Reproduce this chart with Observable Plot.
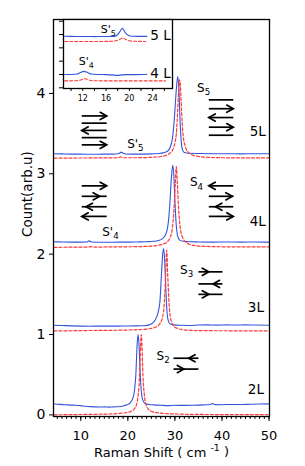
<!DOCTYPE html>
<html>
<head>
<meta charset="utf-8">
<script src="https://cdn.jsdelivr.net/npm/d3@7"></script>
<script src="https://cdn.jsdelivr.net/npm/@observablehq/plot@0.6"></script>
<style>
html,body{margin:0;padding:0;background:#fff;}
#chart{position:relative;width:305px;height:466px;}
#chart svg{position:absolute;left:0;top:0;}
</style>
</head>
<body>
<div id="chart"></div>
<script>
// ---------- main panel data: [Raman shift, count] ----------
const blue2L = [[4.3,0.135],[5,0.133],[6,0.128],[7,0.125],[8,0.122],[9,0.12],[10,0.115],[11,0.108],[12,0.103],[13,0.1],[14,0.098],[15,0.1],[16,0.097],[17,0.1],[18,0.102],[19,0.11],[19.8,0.125],[20.5,0.15],[21.0,0.2],[21.4,0.3],[21.7,0.5],[21.95,0.85],[22.15,1.0],[22.35,0.9],[22.6,0.55],[22.85,0.3],[23.2,0.18],[23.7,0.14],[24.5,0.13],[25.5,0.125],[27,0.12],[28.5,0.115],[30,0.12],[32,0.118],[34,0.12],[36,0.125],[37.5,0.13],[38,0.14],[38.5,0.128],[40,0.127],[42,0.13],[44,0.13],[46,0.132],[48,0.135],[50,0.137]];
const red2L = [[4.3,0.0],[6,0.002],[8,0.003],[10,0.005],[12,0.006],[14,0.008],[16,0.011],[18,0.017],[19.5,0.027],[20.5,0.04],[21.3,0.07],[21.8,0.12],[22.2,0.25],[22.5,0.5],[22.7,0.85],[22.85,1.0],[23.0,0.85],[23.2,0.5],[23.5,0.25],[23.9,0.12],[24.4,0.07],[25.2,0.04],[26.5,0.025],[28,0.017],[31,0.01],[35,0.006],[40,0.004],[45,0.003],[50,0.002]];
const blue3L = [[4.3,1.115],[6,1.112],[8,1.108],[10,1.105],[12,1.103],[14,1.105],[16,1.104],[18,1.105],[20,1.106],[22,1.108],[23.5,1.11],[24.5,1.12],[25.2,1.14],[25.8,1.18],[26.3,1.25],[26.8,1.4],[27.1,1.7],[27.4,2.0],[27.6,2.07],[27.8,1.95],[28.05,1.6],[28.3,1.3],[28.6,1.17],[29,1.13],[29.8,1.12],[31,1.115],[33,1.113],[35,1.118],[37,1.12],[39,1.117],[41,1.12],[43,1.118],[45,1.12],[47,1.118],[50,1.115]];
const red3L = [[4.3,1.045],[8,1.047],[12,1.05],[16,1.052],[20,1.056],[22,1.06],[23.5,1.065],[24.8,1.075],[25.8,1.09],[26.6,1.12],[27.2,1.18],[27.7,1.35],[28.0,1.7],[28.25,2.05],[28.5,1.7],[28.8,1.35],[29.2,1.17],[29.8,1.1],[30.6,1.075],[31.8,1.06],[33.5,1.052],[36,1.048],[40,1.047],[45,1.046],[50,1.045]];
const blue4L = [[4.3,2.155],[6,2.152],[8,2.15],[10,2.15],[11.3,2.152],[11.8,2.165],[12.3,2.152],[14,2.148],[16,2.148],[18,2.15],[20,2.15],[22,2.152],[24,2.155],[25.5,2.16],[26.5,2.17],[27.3,2.19],[28,2.24],[28.5,2.35],[28.9,2.6],[29.25,2.95],[29.55,3.11],[29.8,2.95],[30.05,2.6],[30.3,2.35],[30.6,2.22],[31,2.175],[31.8,2.16],[33,2.155],[35,2.152],[38,2.15],[41,2.152],[44,2.15],[47,2.152],[50,2.15]];
const red4L = [[4.3,2.085],[8,2.087],[11.5,2.088],[12.2,2.095],[13,2.088],[16,2.09],[20,2.092],[23,2.095],[25,2.1],[26.5,2.11],[27.5,2.125],[28.3,2.15],[28.9,2.2],[29.4,2.3],[29.8,2.55],[30.1,2.9],[30.3,3.09],[30.5,2.9],[30.8,2.55],[31.2,2.3],[31.7,2.2],[32.3,2.15],[33.2,2.12],[34.5,2.105],[36.5,2.097],[40,2.092],[45,2.09],[50,2.09]];
const blue5L = [[4.3,3.25],[6,3.248],[8,3.245],[10,3.245],[12,3.243],[14,3.244],[16,3.245],[17.5,3.247],[18.2,3.255],[18.6,3.27],[19.0,3.255],[19.5,3.246],[21,3.245],[23,3.245],[25,3.248],[26.5,3.252],[27.5,3.26],[28.4,3.28],[29.0,3.33],[29.5,3.45],[29.9,3.7],[30.3,4.05],[30.6,4.21],[30.85,4.05],[31.1,3.65],[31.35,3.4],[31.6,3.3],[32,3.265],[33,3.255],[35,3.252],[38,3.25],[41,3.25],[44,3.248],[47,3.25],[50,3.25]];
const red5L = [[4.3,3.195],[8,3.196],[12,3.197],[16,3.198],[18,3.2],[18.5,3.21],[19,3.2],[22,3.2],[25,3.205],[27,3.215],[28.3,3.235],[29.2,3.27],[29.8,3.34],[30.3,3.5],[30.6,3.8],[30.85,4.1],[31.0,4.17],[31.15,4.1],[31.4,3.8],[31.7,3.5],[32.2,3.34],[32.8,3.27],[33.7,3.235],[35,3.215],[37,3.205],[40,3.2],[45,3.198],[50,3.197]];

// ---------- inset data ----------
const insetBlue5L = [[8.9,3.87],[10,3.86],[11,3.855],[12,3.85],[13,3.85],[14,3.845],[15,3.85],[16,3.855],[17,3.86],[17.7,3.9],[18.2,4.1],[18.8,4.46],[19.3,4.15],[19.8,3.95],[20.5,3.87],[21.5,3.86],[22.5,3.86],[23,3.86]];
const insetRed5L = [[8.9,3.48],[11,3.48],[13,3.48],[15,3.48],[16.5,3.485],[17.5,3.52],[18.3,3.62],[18.9,3.74],[19.4,3.62],[20,3.53],[21,3.49],[22.8,3.48]];
const insetBlue4L = [[8.9,1.0],[10,1.0],[11,1.03],[11.6,1.15],[12.2,1.23],[12.8,1.15],[13.5,1.03],[14.5,1.0],[16,0.99],[17,0.97],[17.9,0.93],[18.7,0.97],[19.5,0.99],[21,0.99],[22.5,1.0],[23,1.02]];
const insetRed4L = [[8.9,0.52],[10.5,0.525],[11.5,0.57],[12.4,0.68],[13.2,0.57],[14.2,0.53],[16,0.52],[20,0.52],[24,0.52],[26.2,0.52]];

// ---------- ticks and labels ----------
const xMajor = [10, 20, 30, 40, 50];
const xMinor = d3.range(5, 51, 1);
const yTicks = [0, 1, 2, 3, 4];
const insetXTicks = [10, 12, 14, 16, 18, 20, 22, 24, 26];
const insetXLabels = [12, 16, 20, 24];
const insetYTicks = [0, 1, 2, 3, 4, 5];
const xLabel = "Raman Shift ( cm^-1^ )";
const yLabel = "Count(arb.u)";

// ---------- annotations (data coordinates) ----------
const modeLabels = [
  {text: "S'_5", x: 21.6, y: 3.37},
  {text: "S_5", x: 36.1, y: 4.07},
  {text: "S_4", x: 34.6, y: 2.89},
  {text: "S'_4", x: 16.3, y: 2.28},
  {text: "S_3", x: 32.5, y: 1.80},
  {text: "S_2", x: 27.5, y: 0.73}
];
const layerLabels = [
  {text: "5L", x: 47.6, y: 3.53},
  {text: "4L", x: 47.6, y: 2.40},
  {text: "3L", x: 47.2, y: 1.34},
  {text: "2L", x: 47.2, y: 0.31}
];
// layer displacement bars: from, to, y, arrow tip (null = plain), direction
const bars = [
  {from: 10.2, to: 15.5, y: 3.72, tip: 15.5, dir: 1},
  {from: 10.2, to: 15.5, y: 3.63, tip: null, dir: 0},
  {from: 10.2, to: 15.5, y: 3.54, tip: 10.2, dir: -1},
  {from: 10.2, to: 15.5, y: 3.45, tip: null, dir: 0},
  {from: 10.2, to: 15.5, y: 3.36, tip: 15.5, dir: 1},
  {from: 37.2, to: 42.4, y: 3.92, tip: null, dir: 0},
  {from: 37.2, to: 42.4, y: 3.81, tip: 42.4, dir: 1},
  {from: 37.2, to: 42.4, y: 3.70, tip: 37.2, dir: -1},
  {from: 37.2, to: 42.4, y: 3.58, tip: 42.4, dir: 1},
  {from: 37.2, to: 42.4, y: 3.48, tip: null, dir: 0},
  {from: 10.2, to: 15.5, y: 2.85, tip: 15.5, dir: 1},
  {from: 10.2, to: 15.5, y: 2.72, tip: 14.0, dir: 1},
  {from: 10.2, to: 15.5, y: 2.59, tip: 11.1, dir: -1},
  {from: 10.2, to: 15.5, y: 2.47, tip: 10.2, dir: -1},
  {from: 37.2, to: 42.4, y: 2.85, tip: 37.2, dir: -1},
  {from: 37.2, to: 42.4, y: 2.72, tip: 42.2, dir: 1},
  {from: 37.2, to: 42.4, y: 2.59, tip: 38.6, dir: -1},
  {from: 37.2, to: 42.4, y: 2.47, tip: 42.4, dir: 1},
  {from: 35.0, to: 40.1, y: 1.78, tip: 37.2, dir: 1},
  {from: 35.0, to: 40.1, y: 1.63, tip: 38.1, dir: -1},
  {from: 35.0, to: 40.1, y: 1.50, tip: 37.2, dir: 1},
  {from: 29.7, to: 35.0, y: 0.705, tip: 32.9, dir: -1},
  {from: 29.7, to: 35.0, y: 0.57, tip: 31.9, dir: 1}
];
const insetModeLabels = [
  {text: "S'_5", x: 15.1, y: 4.38},
  {text: "S'_4", x: 11.3, y: 1.98}
];
const insetLayerLabels = [
  {text: "5 L", x: 23.6, y: 3.93},
  {text: "4 L", x: 23.6, y: 1.07}
];

// ---------- build ----------
const FONT = "'DejaVu Sans', sans-serif";
const BLUE = "#3355dd";
const RED = "#ff3838";
const rows = (layer, pts) => pts.map(([x, y]) => ({layer, x, y}));
const blueRows = [...rows("2L", blue2L), ...rows("3L", blue3L), ...rows("4L", blue4L), ...rows("5L", blue5L)];
const redRows = [...rows("2L", red2L), ...rows("3L", red3L), ...rows("4L", red4L), ...rows("5L", red5L)];
const heads = bars.filter(d => d.tip !== null);

// open chevron arrowhead, tip at the anchor point
const chevron = {draw(ctx, l, r) { ctx.moveTo(-3.6, 6.5); ctx.lineTo(0, 0); ctx.lineTo(3.6, 6.5); }};

const main = Plot.plot({
  width: 305, height: 466,
  marginLeft: 53, marginRight: 36, marginTop: 19, marginBottom: 50,
  style: {fontFamily: FONT, fontSize: "13px", background: "transparent", overflow: "visible"},
  x: {domain: [4.2, 50.1]},
  y: {domain: [-0.02, 4.92]},
  marks: [
    Plot.line(blueRows, {x: "x", y: "y", z: "layer", stroke: BLUE, strokeWidth: 1.1, curve: "monotone-x"}),
    Plot.line(redRows, {x: "x", y: "y", z: "layer", stroke: RED, strokeWidth: 1.2, strokeDasharray: "3,2", curve: "monotone-x"}),
    Plot.axisX(xMinor, {tickSize: 3, tickFormat: () => "", label: null}),
    Plot.axisX(xMajor, {tickSize: 5, tickPadding: 9, fontSize: 13, label: null}),
    Plot.axisY(yTicks, {tickSize: 4, tickPadding: 4, fontSize: 14, tickFormat: "d", label: null}),
    Plot.frame({stroke: "black", strokeWidth: 1.3}),
    Plot.text([xLabel], {frameAnchor: "bottom", dy: 40, fontSize: 13}),
    Plot.text([yLabel], {frameAnchor: "left", dx: -26, dy: 19, rotate: -90, fontSize: 13.5}),
    Plot.link(bars, {x1: "from", x2: "to", y1: "y", y2: "y", stroke: "black", strokeWidth: 1.7}),
    Plot.vector(heads, {x: "tip", y: "y", rotate: d => d.dir > 0 ? 90 : -90, length: 7, shape: chevron, anchor: "start", stroke: "black", strokeWidth: 1.7, strokeLinejoin: "miter"}),
    Plot.text(modeLabels, {x: "x", y: "y", text: "text", fontSize: 12}),
    Plot.text(layerLabels, {x: "x", y: "y", text: "text", fontSize: 13.5})
  ]
});

const iBlue = [...rows("5L", insetBlue5L), ...rows("4L", insetBlue4L)];
const iRed = [...rows("5L", insetRed5L), ...rows("4L", insetRed4L)];
const inset = Plot.plot({
  width: 119, height: 90,
  marginLeft: 8, marginRight: 2, marginTop: 2, marginBottom: 19,
  style: {fontFamily: FONT, fontSize: "8px", background: "transparent", overflow: "visible"},
  x: {domain: [8.7, 27.4]},
  y: {domain: [-0.053, 5.128]},
  marks: [
    Plot.frame({fill: "white"}),
    Plot.line(iBlue, {x: "x", y: "y", z: "layer", stroke: BLUE, strokeWidth: 1.1, curve: "monotone-x"}),
    Plot.line(iRed, {x: "x", y: "y", z: "layer", stroke: RED, strokeWidth: 1.1, strokeDasharray: "3,2", curve: "monotone-x"}),
    Plot.axisX(insetXTicks, {tickSize: 3, tickPadding: 4, tickFormat: d => insetXLabels.includes(d) ? String(d) : "", fontSize: 8, label: null}),
    Plot.axisY(insetYTicks, {tickSize: 4, tickFormat: () => "", label: null}),
    Plot.frame({stroke: "black", strokeWidth: 1.3}),
    Plot.text(insetModeLabels, {x: "x", y: "y", text: "text", textAnchor: "start", fontSize: 11}),
    Plot.text(insetLayerLabels, {x: "x", y: "y", text: "text", textAnchor: "start", fontSize: 13.5})
  ]
});
inset.style.left = "55px";
inset.style.top = "17px";

// turn "_x" into subscripts and "^x^" into superscripts (real SVG text with tspans)
const NS = "http://www.w3.org/2000/svg";
function richText(svg) {
  svg.querySelectorAll("text").forEach(t => {
    if (t.querySelector("tspan")) return;
    const s = t.textContent;
    if (s.includes("_")) {
      const i = s.indexOf("_");
      t.textContent = s.slice(0, i);
      const sub = document.createElementNS(NS, "tspan");
      sub.setAttribute("dy", "0.35em");
      sub.setAttribute("font-size", "0.72em");
      sub.textContent = s.slice(i + 1);
      t.appendChild(sub);
    } else if (s.includes("^")) {
      const [a, b, c] = s.split("^");
      t.textContent = a + " ";
      const sup = document.createElementNS(NS, "tspan");
      sup.setAttribute("dy", "-0.6em");
      sup.setAttribute("font-size", "0.72em");
      sup.textContent = b;
      t.appendChild(sup);
      const rest = document.createElementNS(NS, "tspan");
      rest.setAttribute("dy", "0.43em");
      rest.textContent = c;
      t.appendChild(rest);
    }
  });
}
richText(main);
richText(inset);

const chart = document.getElementById("chart");
chart.appendChild(main);
chart.appendChild(inset);
</script>
</body>
</html>
